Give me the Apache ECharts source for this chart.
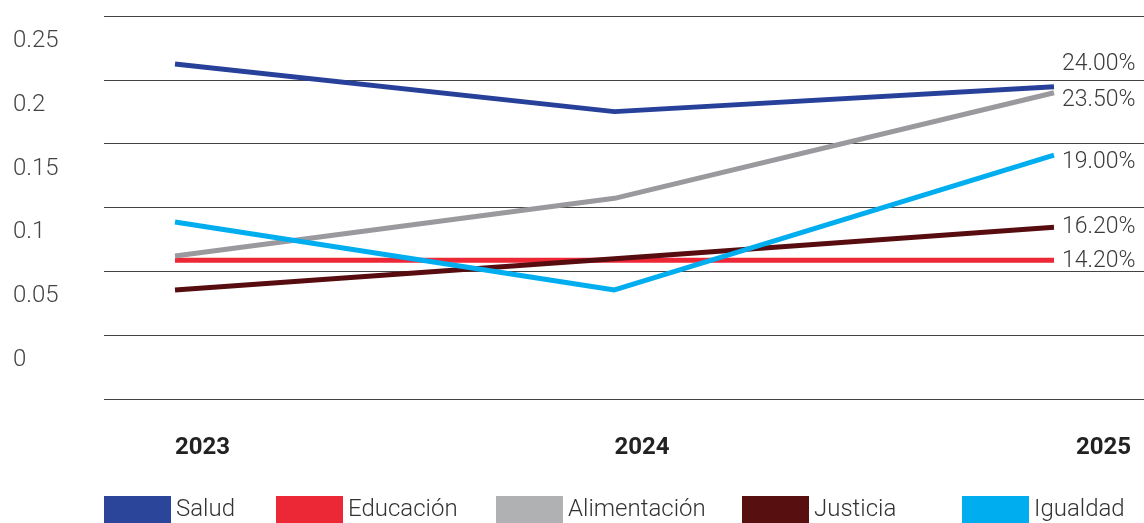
<!DOCTYPE html>
<html>
<head>
<meta charset="utf-8">
<script src="https://cdn.jsdelivr.net/npm/echarts@6/dist/echarts.min.js"></script>
<style>
html,body{margin:0;padding:0;background:#fff;}
#chart{width:1144px;height:523px;}
</style>
</head>
<body>
<div id="chart"></div>
<script>
const categories = ['2023', '2024', '2025'];
const seriesNames = ['Salud', 'Educación', 'Alimentación', 'Justicia', 'Igualdad'];
const salud = [0.2624, 0.2251, 0.2446];
const educacion = [0.1086, 0.1086, 0.1086];
const alimentacion = [0.1120, 0.1572, 0.2399];
const justicia = [0.0854, 0.1099, 0.1345];
const igualdad = [0.1386, 0.0854, 0.1911];
const endLabels = ['24.00%', '14.20%', '23.50%', '16.20%', '19.00%'];
const yTickLabels = ['0', '0.05', '0.1', '0.15', '0.2', '0.25'];

const seriesValues = [salud, educacion, alimentacion, justicia, igualdad];
const lineColors = ['#27419a', '#ee2737', '#9a9a9e', '#570d0f', '#00aeef'];
const legendColors = ['#2a4599', '#ec2836', '#b0b1b3', '#580f10', '#00adee'];
const labelOffsets = [-22, 1, 8, 0, 7];
const legendLefts = [104, 276, 496, 742, 962];

const chart = echarts.init(document.getElementById('chart'));

const option = {
  animation: false,
  backgroundColor: '#ffffff',
  grid: [
    { left: 104, right: 0, top: 16, bottom: 124 },
    { left: 175, right: 90, top: 16, bottom: 124 }
  ],
  xAxis: [
    { gridIndex: 0, type: 'value', min: 0, max: 1, show: false },
    {
      gridIndex: 1, type: 'category', boundaryGap: false, data: categories,
      axisLine: { show: false }, axisTick: { show: false },
      axisLabel: {
        interval: 0, align: 'left', margin: 37,
        fontFamily: 'Roboto', fontSize: 24, fontWeight: 'bold', color: '#222',
        formatter: function (v, i) {
          return i === categories.length - 1 ? '{e|' + v + '}' : v;
        },
        rich: {
          e: { padding: [0, 0, 0, 22], fontFamily: 'Roboto', fontSize: 24, fontWeight: 'bold', color: '#222' }
        }
      }
    }
  ],
  yAxis: [
    {
      gridIndex: 0, type: 'value', min: 0, max: 0.3, interval: 0.05,
      axisLine: { show: false }, axisTick: { show: false },
      splitLine: { show: true, lineStyle: { color: '#444', width: 1 } },
      axisLabel: {
        align: 'left', margin: 91, verticalAlign: 'middle',
        fontFamily: 'Roboto', fontSize: 24, fontWeight: 300, color: '#444',
        formatter: function (v) {
          const t = yTickLabels[Math.round(v / 0.05)];
          return t === undefined ? '' : '{a|' + t + '}';
        },
        rich: {
          a: { padding: [0, 0, 78, 0], fontFamily: 'Roboto', fontSize: 24, fontWeight: 300, color: '#444' }
        }
      }
    },
    { gridIndex: 1, type: 'value', min: 0, max: 0.3, interval: 0.05, show: false }
  ],
  legend: seriesNames.map(function (name, i) {
    return {
      left: legendLefts[i], top: 496, padding: 0,
      itemWidth: 67, itemHeight: 27, icon: 'rect', itemGap: 0,
      selectedMode: false,
      data: [{ name: name, itemStyle: { color: legendColors[i], borderWidth: 0 } }],
      textStyle: { fontFamily: 'Roboto', fontSize: 24, fontWeight: 300, color: '#333', padding: [0, 0, 8, 0] }
    };
  }),
  series: seriesNames.map(function (name, i) {
    return {
      name: name, type: 'line', xAxisIndex: 1, yAxisIndex: 1,
      data: seriesValues[i], symbol: 'none', silent: true,
      lineStyle: { color: lineColors[i], width: 5 },
      itemStyle: { color: lineColors[i] },
      endLabel: {
        show: true, distance: 8, offset: [0, labelOffsets[i]],
        formatter: function () { return endLabels[i]; },
        fontFamily: 'Roboto', fontSize: 23, fontWeight: 300, color: '#3a3a3a'
      }
    };
  })
};
chart.setOption(option);
</script>
</body>
</html>
